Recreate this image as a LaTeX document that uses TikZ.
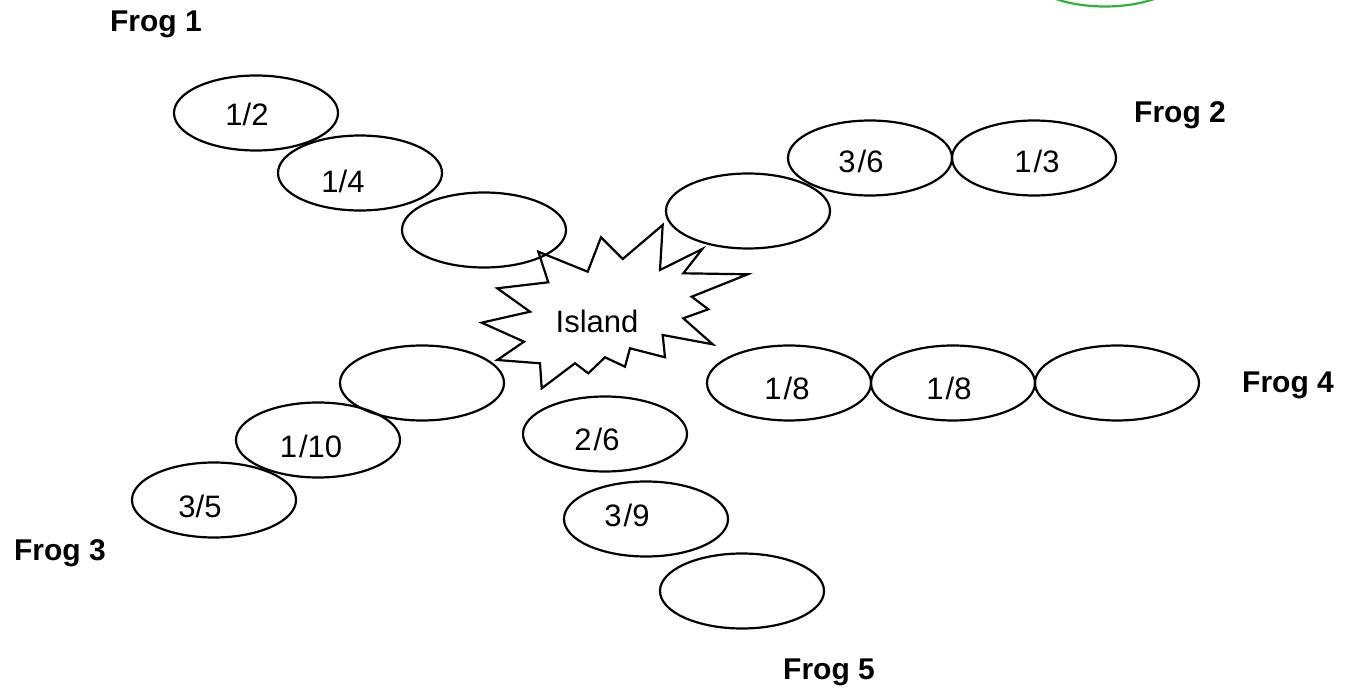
\documentclass[tikz,border=0pt]{standalone}
\usepackage{fontspec}
\setmainfont{Liberation Sans}
\usetikzlibrary{shapes.geometric}
\begin{document}
\begin{tikzpicture}[x=1pt,y=-1pt,
  pad/.style={draw=black, line width=2.2pt, ellipse, minimum width=164pt, minimum height=75pt, inner sep=0pt},
  greenpad/.style={pad, draw={rgb,255:red,45;green,180;blue,60}},
  padtext/.style={font=\fontsize{31}{37}\selectfont, inner sep=0pt},
  frog/.style={font=\fontsize{30}{36}\selectfont\bfseries, inner sep=0pt},
  starline/.style={draw=black, line width=2.2pt, line join=miter},
]
\useasboundingbox (0,0) rectangle (1353,692);

% green partial ellipse at top
\node[greenpad] (green) at (1105,-31) {};

% Frog 1 path
\node[pad] (f1a) at (256,113) {};
\node[pad] (f1b) at (360,173) {};
\node[pad] (f1c) at (484,230) {};
\node[padtext] (t1a) at (247,114) {1/2};
\node[padtext] (t1b) at (343,181) {1/4};

% Frog 2 path
\node[pad] (f2c) at (748,211) {};
\node[pad] (f2b) at (870,158) {};
\node[pad] (f2a) at (1034,158) {};
\node[padtext] (t2b) at (861,161) {3\kern2pt/6};
\node[padtext] (t2a) at (1037,161) {1\kern2pt/3};

% Frog 4 path
\node[pad] (f4a) at (789,383) {};
\node[pad] (f4b) at (953,383) {};
\node[pad] (f4c) at (1117,383) {};
\node[padtext] (t4a) at (787,388) {1\kern2pt/8};
\node[padtext] (t4b) at (949,388) {1\kern2pt/8};

% Frog 3 path
\node[pad] (f3c) at (422,383) {};
\node[pad] (f3b) at (318,440) {};
\node[pad] (f3a) at (214,500) {};
\node[padtext] (t3b) at (311,446) {1\kern2pt/10};
\node[padtext] (t3a) at (200,506) {3/5};

% Frog 5 path
\node[pad] (f5a) at (605,434) {};
\node[pad] (f5b) at (646,519) {};
\node[pad] (f5c) at (742,591) {};
\node[padtext] (t5a) at (597,439) {2\kern2pt/6};
\node[padtext] (t5b) at (627,515) {3\kern2pt/9};

% Island star
\draw[starline] (538.3,251.7) -- (587.7,271.7) -- (601,237.3) -- (622.7,259)
  -- (662.7,225) -- (660,270) -- (702.3,249) -- (683.3,273.3) -- (747.7,274.3)
  -- (691.7,296.7) -- (708.3,309.3) -- (683.3,318.3) -- (712.7,344.3)
  -- (662.7,335) -- (665,357.3) -- (630,348.3) -- (625,366.7) -- (605,357.3)
  -- (588.3,373.3) -- (575,363.3) -- (541.7,388.3) -- (540,363.3)
  -- (497.3,360) -- (524,341.7) -- (481.7,322.7) -- (530,311.7)
  -- (497.3,288.3) -- (548.3,282.3) -- cycle;
\node[padtext] (island) at (597,321) {Island};

% Frog labels
\node[frog] (frog1) at (156,24) {Frog 1};
\node[frog] (frog2) at (1180,115) {Frog 2};
\node[frog] (frog3) at (60,553) {Frog 3};
\node[frog] (frog4) at (1288,385) {Frog 4};
\node[frog] (frog5) at (829,672) {Frog 5};
\end{tikzpicture}
\end{document}
